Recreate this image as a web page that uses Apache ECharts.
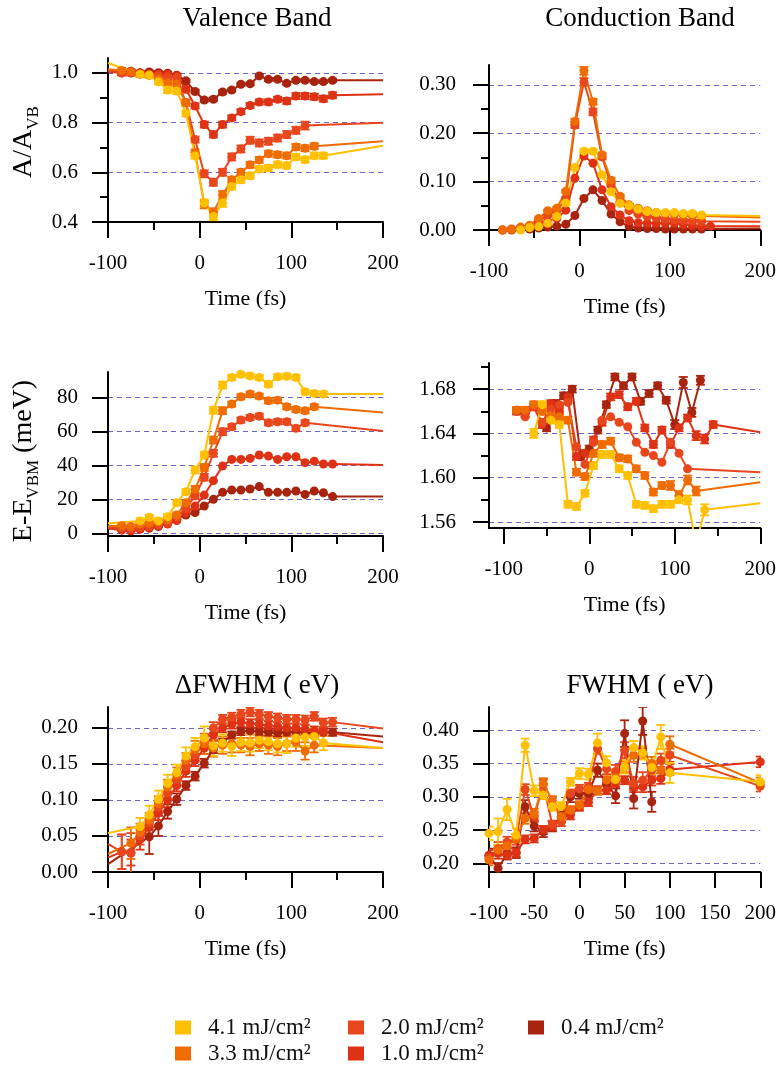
<!DOCTYPE html>
<html>
<head>
<meta charset="utf-8">
<script src="https://cdn.jsdelivr.net/npm/echarts@6.0.0/dist/echarts.min.js"></script>
<style>
html,body{margin:0;padding:0;background:#fff;}
#chart{width:779px;height:1070px;}
</style>
</head>
<body>
<div id="chart"></div>
<script>
// ---------------- DATA ----------------
const DOSES = ['4.1 mJ/cm²', '3.3 mJ/cm²', '2.0 mJ/cm²', '1.0 mJ/cm²', '0.4 mJ/cm²'];
const HEAD_T = -100;   // start of the extrapolated lines
const TAIL_T = 200;    // end of the extrapolated lines

// Panel 1 : Valence band, A/A_VB
const P1_T = [-85,-75,-65,-55,-45,-35,-25,-15,-5,5,15,25,35,45,55,65,75,85,95,105,115,125,135,145];
const P1_41 = [null,null,0.995,0.991,0.964,0.931,0.927,0.837,0.667,0.476,0.422,0.476,0.543,0.570,0.586,0.613,0.617,0.631,0.627,0.662,0.651,0.667,0.667,null];
const P1_33 = [1.01,1.005,0.995,0.99,0.975,0.96,0.955,0.88,0.68,0.47,0.44,0.51,0.57,0.60,0.63,0.65,0.675,0.671,0.667,0.702,0.697,0.705,null,null];
const P1_20 = [1.0,1.0,0.995,0.995,0.99,0.985,0.981,0.88,0.732,0.594,0.560,0.600,0.662,0.694,0.729,0.718,0.725,0.738,0.752,0.769,0.788,null,null,null];
const P1_10 = [1.0,1.0,1.0,0.995,0.995,0.995,0.988,0.934,0.867,0.792,0.752,0.792,0.819,0.844,0.869,0.883,0.883,0.894,0.887,0.907,0.907,0.904,0.896,0.910];
const P1_04 = [1.004,1.007,1.001,1.004,1.001,0.999,0.991,0.968,0.925,0.891,0.894,0.923,0.931,0.954,0.956,0.988,0.974,0.974,0.958,0.970,0.970,0.965,0.965,0.970];
const P1_E41 = [null,null,0.010,0.010,0.010,0.012,0.012,0.012,0.012,0.015,0.015,0.015,0.012,0.012,0.012,0.012,0.012,0.012,0.012,0.012,0.012,0.012,0.012,null];
const P1_E33 = [0.010,0.010,0.010,0.010,0.010,0.010,0.010,0.012,0.012,0.015,0.015,0.015,0.012,0.012,0.012,0.012,0.012,0.012,0.012,0.012,0.012,0.012,null,null];
const P1_E20 = [0.010,0.010,0.010,0.010,0.010,0.010,0.010,0.012,0.012,0.014,0.014,0.014,0.014,0.014,0.014,0.014,0.014,0.014,0.014,0.014,0.016,null,null,null];
const P1_E10 = [0.010,0.010,0.008,0.008,0.008,0.008,0.008,0.010,0.010,0.012,0.012,0.012,0.010,0.010,0.010,0.010,0.010,0.010,0.012,0.012,0.012,0.012,0.012,0.012];
const P1_E04 = [0.006,0.006,0.006,0.006,0.006,0.006,0.006,0.006,0.007,0.007,0.007,0.007,0.006,0.006,0.006,0.006,0.006,0.006,0.006,0.006,0.006,0.006,0.006,0.006];
const P1_HEAD = [1.04, 1.015, 1.01, 1.005, 1.008];
const P1_TAIL = [0.707, 0.725, 0.799, 0.914, 0.970];

// Panel 2 : Conduction band, A/A_VB
const P2_T = [-85,-75,-65,-55,-45,-35,-25,-15,-5,5,15,25,35,45,55,65,75,85,95,105,115,125,135,145];
const P2_41 = [null,null,0.0,0.005,0.007,0.014,0.028,0.056,0.129,0.163,0.163,0.114,0.079,0.055,0.050,0.043,0.038,0.036,0.036,0.036,0.034,0.034,0.031,null];
const P2_33 = [0.0,0.001,0.006,0.010,0.024,0.040,0.045,0.080,0.224,0.329,0.265,0.155,0.103,0.070,0.052,0.045,0.040,0.036,0.034,0.032,0.031,0.030,0.029,null];
const P2_20 = [0.0,0.002,0.005,0.008,0.018,0.030,0.040,0.065,0.217,0.306,0.244,0.151,0.093,0.058,0.040,0.033,0.028,0.025,0.023,0.021,0.020,0.019,0.018,null];
const P2_10 = [0.0,0.001,0.003,0.007,0.012,0.017,0.024,0.041,0.107,0.153,0.138,0.083,0.048,0.031,0.019,0.015,0.014,0.014,0.014,0.014,0.012,0.010,0.008,0.008];
const P2_04 = [null,0.0,0.001,0.002,0.004,0.006,0.008,0.012,0.030,0.065,0.083,0.061,0.033,0.017,0.007,0.004,0.003,0.003,0.002,0.002,0.002,0.002,0.002,null];
const P2_E41 = [null,null,0.002,0.002,0.002,0.002,0.002,0.003,0.004,0.004,0.004,0.004,0.003,0.003,0.002,0.002,0.002,0.002,0.002,0.002,0.002,0.002,0.002,null];
const P2_E33 = [0.002,0.002,0.002,0.002,0.002,0.002,0.002,0.003,0.006,0.008,0.006,0.005,0.004,0.003,0.002,0.002,0.002,0.002,0.002,0.002,0.002,0.002,0.002,null];
const P2_E20 = [0.002,0.002,0.002,0.002,0.002,0.002,0.002,0.003,0.006,0.008,0.007,0.005,0.004,0.003,0.002,0.002,0.002,0.002,0.002,0.002,0.002,0.002,0.002,null];
const P2_TAIL = [0.029, 0.026, 0.017, 0.008, 0.003];

// Panel 3 : Valence band, E - E_VBM (meV)
const P3_T = [-85,-75,-65,-55,-45,-35,-25,-15,-5,5,15,25,35,45,55,65,75,85,95,105,115,125,135,145];
const P3_41 = [null,null,7.3,9.4,7.3,9.8,18.0,24.5,37.3,46.1,72.5,87.3,91.8,93.7,92.7,91.8,87.8,92.2,92.5,91.8,83.3,82.4,82.0,null];
const P3_33 = [4.5,4.0,5.5,6.0,7.0,8.0,10.8,18.0,25.9,38.8,54.9,72.2,76.1,80.4,82.0,80.8,78.0,78.4,74.5,72.9,72.2,74.5,null,null];
const P3_20 = [3.0,2.5,3.5,4.0,5.0,6.5,9.5,14.5,22.0,33.0,47.1,59.8,62.7,66.7,68.2,69.0,65.1,65.7,65.7,61.8,65.1,null,null,null];
const P3_10 = [2.0,1.5,2.5,3.5,4.5,5.5,7.5,12.0,16.0,22.5,31.0,39.6,43.5,43.5,44.1,46.1,45.5,43.5,45.1,45.1,41.6,42.5,40.8,40.8];
const P3_04 = [2.0,1.5,2.5,3.0,4.0,5.9,8.2,10.8,12.2,16.1,20.0,24.1,25.5,25.5,26.1,27.5,24.1,24.1,24.1,24.9,22.9,24.9,23.9,21.6];
const P3_E41 = [null,null,1.5,1.5,1.5,1.5,1.5,1.5,2.0,2.0,2.0,2.0,1.5,1.5,1.5,1.5,1.5,1.5,1.5,1.5,1.5,1.5,1.5,null];
const P3_E33 = [1.0,1.0,1.0,1.0,1.0,1.0,1.5,1.5,2.0,2.0,2.0,2.0,1.5,1.5,1.5,1.5,1.5,1.5,1.5,1.5,1.5,1.5,null,null];
const P3_E20 = [1.0,1.0,1.0,1.0,1.0,1.0,1.5,1.5,1.5,2.0,2.0,2.0,1.5,1.5,1.5,1.5,1.5,1.5,1.5,1.5,1.5,null,null,null];
const P3_HEAD = [5.9, 4.3, 3.5, 3.0, 3.0];
const P3_TAIL = [82.0, 71.2, 60.2, 40.2, 21.6];

// Panel 4 : Conduction band energy (eV)
const P4_T = [-85,-75,-65,-55,-45,-35,-25,-15,-5,5,15,25,35,45,55,65,75,85,95,105,115,125,135,145];
const P4_T04 = [-50,-40,-30,-20,-10,0,10,20,30,40,50,60,70,80,90,100,110,120,130];
const P4_41 = [null,null,1.640,1.666,1.652,1.648,1.576,1.574,1.586,1.611,1.621,1.621,1.608,1.602,1.576,1.575,1.572,1.576,1.576,1.580,1.580,1.540,1.571,null];
const P4_33 = [1.661,1.661,1.666,1.660,1.656,1.655,1.652,1.605,1.601,1.622,1.630,1.633,1.618,1.617,1.608,1.602,1.587,1.593,1.593,1.584,1.598,1.588,null,null];
const P4_20 = [1.661,1.655,1.664,1.650,1.662,1.666,1.668,1.628,1.612,1.632,1.652,1.655,1.650,1.646,1.632,1.623,1.620,1.614,1.632,1.622,1.608,null,null,null];
const P4_10 = [1.660,1.658,1.664,1.648,1.667,1.660,1.673,1.619,1.622,1.634,1.650,1.673,1.675,1.664,1.669,1.645,1.630,1.643,1.630,1.645,1.654,1.638,1.635,1.648];
const P4_04 = [1.645,1.667,1.674,1.680,1.619,1.626,1.643,1.666,1.691,1.683,1.691,1.669,1.676,1.683,1.670,1.648,1.686,1.659,1.688];
const P4_E41 = [null,null,0.004,0.003,0.003,0.003,0.003,0.003,0.003,0.003,0.003,0.003,0.003,0.003,0.003,0.003,0.003,0.003,0.003,0.003,0.004,0.004,0.005,null];
const P4_E33 = [0.003,0.003,0.003,0.003,0.003,0.003,0.003,0.003,0.003,0.003,0.003,0.003,0.003,0.003,0.003,0.003,0.003,0.003,0.004,0.004,0.004,0.004,null,null];
const P4_E10 = [0.003,0.003,0.003,0.003,0.003,0.003,0.003,0.003,0.003,0.003,0.003,0.003,0.003,0.003,0.003,0.003,0.003,0.003,0.003,0.003,0.003,0.004,0.004,0.003];
const P4_E04 = [0.003,0.003,0.003,0.003,0.003,0.003,0.003,0.003,0.003,0.003,0.003,0.003,0.003,0.003,0.003,0.004,0.005,0.004,0.004];
const P4_TAIL = [1.577, 1.596, 1.605, 1.641, null];

// Panel 5 : delta FWHM (eV)
const P5_T = [-85,-75,-65,-55,-45,-35,-25,-15,-5,5,15,25,35,45,55,65,75,85,95,105,115,125,135,145];
const P5_41 = [null,null,0.063,0.079,0.101,0.123,0.138,0.161,0.174,0.186,0.175,0.179,0.174,0.180,0.179,0.183,0.181,0.178,0.178,0.186,0.187,0.188,0.179,null];
const P5_33 = [null,0.040,0.055,0.072,0.095,0.118,0.135,0.155,0.170,0.178,0.172,0.176,0.178,0.176,0.174,0.178,0.176,0.174,0.178,0.180,0.168,0.176,null,null];
const P5_20 = [0.028,0.026,0.050,0.068,0.090,0.110,0.128,0.146,0.162,0.180,0.200,0.212,0.215,0.219,0.222,0.219,0.216,0.214,0.212,0.212,0.211,0.216,0.207,0.208];
const P5_10 = [0.028,0.027,0.045,0.062,0.082,0.100,0.120,0.140,0.155,0.172,0.190,0.200,0.205,0.208,0.206,0.205,0.203,0.202,0.200,0.200,0.198,0.196,0.195,null];
const P5_04 = [null,null,null,0.049,0.064,0.084,0.101,0.120,0.133,0.151,0.170,0.180,0.190,0.195,0.196,0.195,0.194,0.193,0.194,0.195,0.194,0.192,0.194,0.194];
const P5_E41 = [null,null,0.012,0.013,0.012,0.012,0.011,0.012,0.012,0.016,0.014,0.012,0.013,0.012,0.012,0.011,0.012,0.012,0.013,0.012,0.012,0.011,0.010,null];
const P5_E33 = [null,0.022,0.012,0.010,0.010,0.010,0.010,0.010,0.012,0.014,0.012,0.012,0.012,0.010,0.012,0.010,0.012,0.012,0.010,0.012,0.012,0.010,null,null];
const P5_E20 = [0.024,0.028,0.012,0.010,0.008,0.008,0.008,0.008,0.008,0.008,0.008,0.006,0.006,0.006,0.006,0.006,0.006,0.006,0.006,0.006,0.006,0.006,0.006,0.006];
const P5_E10 = [0.024,0.018,0.014,0.012,0.010,0.010,0.008,0.008,0.008,0.008,0.008,0.006,0.006,0.006,0.006,0.006,0.006,0.006,0.006,0.006,0.006,0.006,0.006,null];
const P5_E04 = [null,null,null,0.024,0.014,0.010,0.008,0.006,0.006,0.006,0.005,0.005,0.005,0.005,0.005,0.005,0.005,0.005,0.005,0.005,0.005,0.005,0.005,0.005];
const P5_HEAD = [0.054, 0.025, 0.039, 0.020, 0.011];
const P5_TAIL = [0.172, 0.172, 0.199, 0.180, 0.188];

// Panel 6 : FWHM (eV)
const P6_T = [-100,-90,-80,-70,-60,-50,-40,-30,-20,-10,0,10,20,30,40,50,60,70,80,90,100,200];
const P6_41 = [0.245,0.2475,0.281,0.2425,0.3775,0.309,0.3025,0.285,0.286,0.3225,0.335,0.334,0.381,0.351,0.326,0.345,0.374,0.366,0.344,0.390,0.336,0.3225];
const P6_33 = [0.205,0.220,0.2265,0.2375,0.2675,0.274,0.320,0.295,0.270,0.280,0.2875,0.311,0.309,0.325,0.329,0.345,0.3625,0.365,0.350,0.340,0.379,0.321];
const P6_20 = [0.208,0.222,0.232,0.236,0.311,0.270,0.318,0.258,0.262,0.305,0.312,0.315,0.3725,0.342,0.338,0.370,0.320,0.325,0.340,0.355,0.3625,0.316];
const P6_10 = [0.212,0.215,0.212,0.216,0.236,0.2375,0.250,0.256,0.270,0.272,0.285,0.292,0.310,0.310,0.321,0.325,0.315,0.315,0.325,0.3275,0.341,0.3525];
const P6_04 = [0.212,0.1925,0.214,0.216,0.285,0.256,0.2475,0.256,0.270,0.300,0.305,0.305,0.340,0.320,0.3015,0.395,0.2975,0.414,0.2925,null,null,null];
const P6_E41 = [0.010,0.020,0.016,0.010,0.010,0.008,0.006,0.006,0.006,0.006,0.008,0.008,0.014,0.010,0.008,0.010,0.010,0.010,0.010,0.018,0.015,0.010];
const P6_E33 = [0.008,0.008,0.008,0.006,0.008,0.008,0.008,0.006,0.006,0.006,0.006,0.006,0.006,0.006,0.006,0.008,0.010,0.008,0.010,0.012,0.012,0.008];
const P6_E20 = [0.008,0.010,0.008,0.008,0.008,0.008,0.008,0.006,0.006,0.006,0.006,0.006,0.008,0.008,0.010,0.012,0.010,0.012,0.010,0.010,0.010,0.008];
const P6_E10 = [0.008,0.008,0.006,0.006,0.006,0.006,0.006,0.006,0.006,0.006,0.006,0.006,0.006,0.006,0.006,0.006,0.008,0.008,0.008,0.008,0.008,0.008];
const P6_E04 = [0.010,0.008,0.008,0.008,0.010,0.008,0.008,0.008,0.008,0.008,0.008,0.008,0.010,0.010,0.011,0.020,0.015,0.021,0.015,null,null,null];

// Tick values
const X_MAJOR = [-100, 0, 100, 200];
const X_MINOR = [-50, 50, 150];
const X6_MAJOR = [-100, -50, 0, 50, 100, 150, 200];
const Y1_MAJOR = [0.4, 0.6, 0.8, 1.0], Y1_MINOR = [0.5, 0.7, 0.9];
const Y2_MAJOR = [0, 0.1, 0.2, 0.3], Y2_MINOR = [0.05, 0.15, 0.25];
const Y3_MAJOR = [0, 20, 40, 60, 80];
const Y4_MAJOR = [1.56, 1.60, 1.64, 1.68], Y4_MINOR = [1.58, 1.62, 1.66, 1.70];
const Y5_MAJOR = [0, 0.05, 0.10, 0.15, 0.20];
const Y6_MAJOR = [0.20, 0.25, 0.30, 0.35, 0.40];

// ---------------- STYLE / LAYOUT ----------------
const COLORS = ['#FFC000', '#EF6C00', '#E8461C', '#DE3214', '#A8240E'];
const FONT = "'Liberation Serif','DejaVu Serif',serif";
const GRID_COLOR = '#6c64cc';

const panels = [
  {grid:{left:108, top:58, width:275, height:164}, xmin:-100, xMajor:X_MAJOR, xMinor:X_MINOR,
   ymin:0.4, ymax:1.06, yMajor:Y1_MAJOR, yMinor:Y1_MINOR, dec:1, yMargin:30,
   t:P1_T, vals:[P1_41,P1_33,P1_20,P1_10,P1_04], errs:[P1_E41,P1_E33,P1_E20,P1_E10,P1_E04],
   head:P1_HEAD, tail:P1_TAIL, yName:'A/A{s|VB}', yNamePad:[0,4,0,0]},
  {grid:{left:489, top:65, width:275, height:165}, xmin:-100, xMajor:X_MAJOR, xMinor:X_MINOR,
   ymin:0, ymax:0.341, yMajor:Y2_MAJOR, yMinor:Y2_MINOR, dec:2, yMargin:33,
   t:P2_T, vals:[P2_41,P2_33,P2_20,P2_10,P2_04], errs:[P2_E41,P2_E33,P2_E20,null,null],
   head:null, tail:P2_TAIL},
  {grid:{left:108, top:372, width:275, height:164}, xmin:-100, xMajor:X_MAJOR, xMinor:X_MINOR,
   ymin:-1.6, ymax:95, yMajor:Y3_MAJOR, yMinor:[], dec:0, yMargin:30,
   t:P3_T, vals:[P3_41,P3_33,P3_20,P3_10,P3_04], errs:[P3_E41,P3_E33,P3_E20,null,null],
   head:P3_HEAD, tail:P3_TAIL, yName:'E-E{s|VBM} (meV)', yNamePad:[0,14,0,0]},
  {grid:{left:489, top:363, width:275, height:165}, xmin:-117.3, xMajor:X_MAJOR, xMinor:X_MINOR,
   ymin:1.5546, ymax:1.7036, yMajor:Y4_MAJOR, yMinor:Y4_MINOR, dec:2, yMargin:33,
   t:P4_T, tList:[P4_T,P4_T,P4_T,P4_T,P4_T04], vals:[P4_41,P4_33,P4_20,P4_10,P4_04],
   errs:[P4_E41,P4_E33,null,P4_E10,P4_E04], head:null, tail:P4_TAIL},
  {grid:{left:108, top:707, width:275, height:165}, xmin:-100, xMajor:X_MAJOR, xMinor:X_MINOR,
   ymin:0, ymax:0.229, yMajor:Y5_MAJOR, yMinor:[], dec:2, yMargin:30,
   t:P5_T, vals:[P5_41,P5_33,P5_20,P5_10,P5_04], errs:[P5_E41,P5_E33,P5_E20,P5_E10,P5_E04],
   head:P5_HEAD, tail:P5_TAIL},
  {grid:{left:489, top:707, width:275, height:165}, xmin:-100, xMajor:X6_MAJOR, xMinor:[],
   ymin:0.187, ymax:0.435, yMajor:Y6_MAJOR, yMinor:[], dec:2, yMargin:30,
   t:P6_T, vals:[P6_41,P6_33,P6_20,P6_10,P6_04], errs:[P6_E41,P6_E33,P6_E20,P6_E10,P6_E04],
   head:null, tail:null}
];

const grids = [], xAxes = [], yAxes = [], series = [];
const tickStyle = {color:'#000', width:2};

panels.forEach((p, i) => {
  grids.push(Object.assign({containLabel:false}, p.grid));
  xAxes.push({
    type:'value', gridIndex:i, min:p.xmin, max:200,
    axisLine:{onZero:false, lineStyle:{color:'#000', width:2}},
    axisTick:{customValues:p.xMajor, length:16, lineStyle:tickStyle},
    axisLabel:{customValues:p.xMajor, margin:31, color:'#000', fontSize:21, fontFamily:FONT,
               formatter: v => String(Math.round(v))},
    splitLine:{show:false},
    name:'Time (fs)', nameLocation:'middle', nameGap:66,
    nameTextStyle:{color:'#000', fontSize:22, fontFamily:FONT}
  });
  xAxes.push({
    type:'value', gridIndex:i, min:p.xmin, max:200, position:'bottom',
    axisLine:{show:false, onZero:false},
    axisTick:{show:p.xMinor.length>0, customValues:p.xMinor.length ? p.xMinor : [p.xmin], length:8, lineStyle:tickStyle},
    axisLabel:{show:false}, splitLine:{show:false}
  });
  const yMain = {
    type:'value', gridIndex:i, min:p.ymin, max:p.ymax,
    axisLine:{onZero:false, lineStyle:{color:'#000', width:2}},
    axisTick:{customValues:p.yMajor, length:16, lineStyle:tickStyle},
    axisLabel:{customValues:p.yMajor, margin:p.yMargin, color:'#000', fontSize:21, fontFamily:FONT,
               formatter: v => v.toFixed(p.dec)},
    splitLine:{show:true, lineStyle:{color:GRID_COLOR, type:[5,4], width:1}}
  };
  if (p.yName) {
    Object.assign(yMain, {
      name:p.yName, nameLocation:'middle', nameGap:66,
      nameTextStyle:{color:'#000', fontSize:28, fontFamily:FONT, lineHeight:36, padding:p.yNamePad,
        rich:{s:{fontSize:17, fontFamily:FONT, color:'#000', lineHeight:16, verticalAlign:'bottom'}}}
    });
  }
  yAxes.push(yMain);
  yAxes.push({
    type:'value', gridIndex:i, min:p.ymin, max:p.ymax, position:'left',
    axisLine:{show:false, onZero:false},
    axisTick:{show:p.yMinor.length>0, customValues:p.yMinor.length ? p.yMinor : [p.ymin], length:8, lineStyle:tickStyle},
    axisLabel:{show:false}, splitLine:{show:false}
  });

  // series: darkest first, yellow last (on top)
  for (let k = 4; k >= 0; k--) {
    const times = p.tList ? p.tList[k] : p.t;
    const vals = p.vals[k];
    const errs = p.errs ? p.errs[k] : null;
    const color = COLORS[k];
    if (errs) {
      const ed = [];
      times.forEach((t, j) => { if (vals[j] != null && errs[j] != null) ed.push([t, vals[j], errs[j]]); });
      series.push({
        type:'custom', xAxisIndex:2*i, yAxisIndex:2*i, clip:true, silent:true,
        encode:{x:0, y:1},
        data:ed,
        renderItem:(params, api) => {
          const t = api.value(0), v = api.value(1), e = api.value(2);
          const a = api.coord([t, v + e]), b = api.coord([t, v - e]);
          const st = {stroke:color, lineWidth:1.8};
          return {type:'group', children:[
            {type:'line', shape:{x1:a[0], y1:a[1], x2:b[0], y2:b[1]}, style:st},
            {type:'line', shape:{x1:a[0]-4.5, y1:a[1], x2:a[0]+4.5, y2:a[1]}, style:st},
            {type:'line', shape:{x1:b[0]-4.5, y1:b[1], x2:b[0]+4.5, y2:b[1]}, style:st}
          ]};
        }
      });
    }
    const data = [];
    if (p.head && p.head[k] != null) data.push({value:[HEAD_T, p.head[k]], symbol:'none'});
    times.forEach((t, j) => { if (vals[j] != null) data.push([t, vals[j]]); });
    if (p.tail && p.tail[k] != null) data.push({value:[TAIL_T, p.tail[k]], symbol:'none'});
    series.push({
      type:'line', name:DOSES[k], xAxisIndex:2*i, yAxisIndex:2*i,
      data, symbol:'circle', symbolSize:9, clip:true,
      lineStyle:{color, width:2}, itemStyle:{color},
      emphasis:{disabled:true}
    });
  }
});

// legends, one per item (column-major layout like the reference)
const legendPos = [
  {left:175, top:1016}, {left:175, top:1042},
  {left:348, top:1016}, {left:348, top:1042},
  {left:528, top:1016}
];
const legends = DOSES.map((d, k) => ({
  data:[d], left:legendPos[k].left, top:legendPos[k].top, orient:'horizontal',
  icon:'rect', itemWidth:16, itemHeight:14, selectedMode:false, padding:0,
  textStyle:{color:'#111', fontSize:23, fontFamily:FONT, padding:[0,0,0,12]}
}));

const titles = [
  {text:'Valence Band', x:257, y:19},
  {text:'Conduction Band', x:640, y:19},
  {text:'ΔFWHM ( eV)', x:257, y:686},
  {text:'FWHM ( eV)', x:640, y:686}
];

const chart = echarts.init(document.getElementById('chart'), null, {renderer:'canvas'});
chart.setOption({
  backgroundColor:'#fff',
  animation:false,
  grid:grids, xAxis:xAxes, yAxis:yAxes, series, legend:legends,
  graphic: titles.map(t => ({
    type:'text', x:t.x, y:t.y, silent:true,
    style:{text:t.text, fill:'#000', fontSize:27, fontFamily:FONT, align:'center', verticalAlign:'middle'}
  }))
});
</script>
</body>
</html>
